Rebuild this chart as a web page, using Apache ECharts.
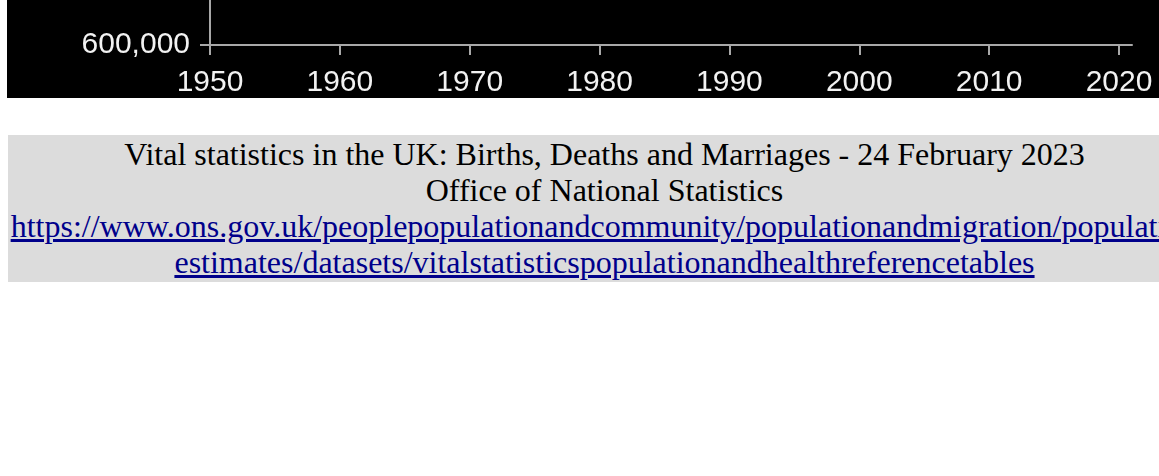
<!DOCTYPE html>
<html>
<head>
<meta charset="utf-8">
<script src="https://cdn.jsdelivr.net/npm/echarts@6/dist/echarts.min.js"></script>
<style>
  html, body { margin: 0; padding: 0; background: #fff; overflow: hidden; }
  #echarts-main { position: absolute; left: 7px; top: -702px; width: 1193px; height: 800px; background: #000; }
  #caption {
    position: absolute; left: 8px; top: 135px; width: 1193px; height: 147px;
    background: #dcdcdc; text-align: center; box-sizing: border-box; padding-top: 1px;
    font-family: "Liberation Serif", "Times New Roman", serif; font-size: 32px; line-height: 36px; color: #000;
  }
  #caption a { color: #00008b; }
</style>
</head>
<body>
<div id="echarts-main"></div>
<div id="caption">
  Vital statistics in the UK: Births, Deaths and Marriages - 24 February 2023<br>
  Office of National Statistics<br>
  <a href="https://www.ons.gov.uk/peoplepopulationandcommunity/populationandmigration/populationestimates/datasets/vitalstatisticspopulationandhealthreferencetables">https://www.ons.gov.uk/peoplepopulationandcommunity/populationandmigration/population<wbr>estimates/datasets/vitalstatisticspopulationandhealthreferencetables</a>
</div>
<script>
// year ticks along the bottom
var yearTicks = [1950, 1960, 1970, 1980, 1990, 2000, 2010, 2020];
// live births, UK (the line itself is above the visible part of the page)
var years  = [1950, 1955, 1960, 1964, 1970, 1977, 1980, 1990, 2000, 2002, 2010, 2012, 2020, 2021];
var births = [818000, 789000, 918000, 1015000, 904000, 657000, 754000, 799000, 679000, 669000, 807000, 813000, 683000, 695000];

var myChart = echarts.init(document.getElementById('echarts-main'));
var axisColor = '#a8a8a8';
var labelColor = '#f2f2f2';
var labelFamily = 'Liberation Sans, Arial, sans-serif';

var option = {
    backgroundColor: '#000',
    animation: false,
    grid: { left: 203, right: 68, top: 40, bottom: 52 },
    xAxis: {
        type: 'value',
        min: 1950,
        max: 2021,
        axisLine: { show: true, lineStyle: { color: axisColor, width: 2 } },
        axisTick: { show: true, length: 10, lineStyle: { color: axisColor, width: 2 }, customValues: yearTicks },
        axisLabel: {
            margin: 23, customValues: yearTicks, color: labelColor, fontSize: 30, fontFamily: labelFamily,
            formatter: function (v) { return String(v); }
        },
        splitLine: { show: false }
    },
    yAxis: {
        type: 'value',
        min: 600000,
        max: 1100000,
        interval: 100000,
        axisLine: { show: true, lineStyle: { color: axisColor, width: 2 } },
        axisTick: { show: true, length: 10, lineStyle: { color: axisColor, width: 2 } },
        axisLabel: {
            margin: 20, color: labelColor, fontSize: 30, fontFamily: labelFamily,
            formatter: function (v) { return v.toLocaleString('en-GB'); }
        },
        splitLine: { show: false }
    },
    series: [{
        name: 'Live births',
        type: 'line',
        showSymbol: false,
        lineStyle: { color: '#4da6ff', width: 2 },
        data: years.map(function (y, i) { return [y, births[i]]; })
    }]
};
myChart.setOption(option);
</script>
</body>
</html>
